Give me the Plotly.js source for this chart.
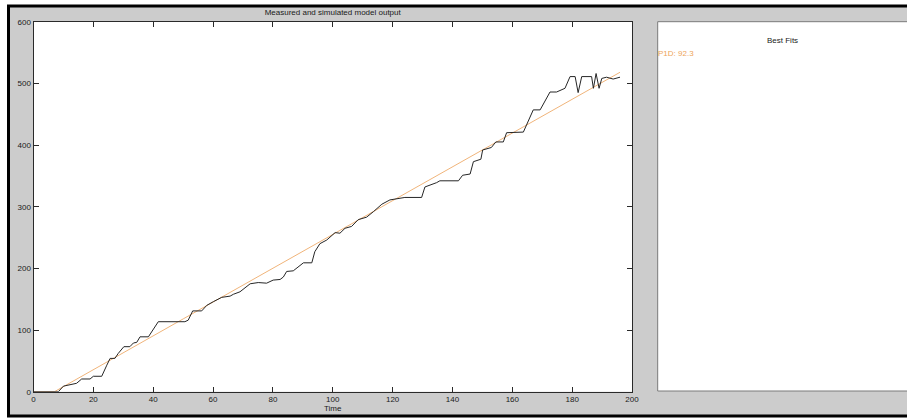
<!DOCTYPE html>
<html>
<head>
<meta charset="utf-8">
<script src="https://cdn.plot.ly/plotly-3.0.1.min.js"></script>
<style>
  html, body { margin: 0; padding: 0; background: #ffffff; overflow: hidden; }
  #chart { width: 907px; height: 418px; overflow: hidden; }
</style>
</head>
<body>
<div id="chart"></div>
<script>
// Measured output (black) over time
const measuredTime = [0, 8.3, 10, 11.6, 14.4, 16.1, 18.9, 20, 22.8, 24.5, 25.6, 27.2, 28.3, 30.2, 32.2, 33.4, 34.5, 35.6, 38.4, 41.7, 50.6, 51.7, 53.2, 56.2, 57.9, 60.1, 61.8, 62.9, 65.7, 66.8, 69, 70.7, 72.4, 75.1, 77.9, 80.1, 82.4, 83.5, 84.6, 86.8, 88.5, 90.2, 93, 94, 95.7, 98, 100.8, 102.4, 104.1, 106.3, 108.5, 111.3, 113.6, 116.4, 119.1, 124.1, 129.7, 130.8, 134.7, 135.8, 142, 143.4, 145.9, 147, 149.5, 150.1, 153, 154.5, 157, 158.1, 163.7, 165.3, 167, 169.3, 170.9, 172.6, 174.8, 177.6, 179.3, 181, 182, 183.2, 186.5, 187.1, 188, 189, 189.9, 191.5, 193.7, 196];
const measuredOutput = [0, 0, 9, 11, 13.6, 20.6, 20.6, 25, 25, 43, 54, 54, 62, 73, 73, 79, 80, 89, 89, 113.5, 113.5, 116, 131, 131, 140, 146, 150, 153, 155, 158, 162, 168, 175, 177, 176, 181, 182, 186, 195, 196, 203, 209, 209, 227, 240, 246, 258, 257, 265, 268, 279, 283, 292, 304, 311, 315, 315, 332, 339, 342, 342, 351, 353, 373, 377, 392, 396, 405, 405, 420, 421, 438, 457, 457, 470, 486, 486, 492, 511, 511, 485, 511, 511, 492, 516, 492, 508, 510, 507, 510];

// Simulated P1D model output (orange)
const simulatedTime = [0, 7, 50, 100, 150, 196];
const simulatedOutput = [0, 0, 118, 255, 392, 518];

// Axis ticks
const xTicks = [0, 20, 40, 60, 80, 100, 120, 140, 160, 180, 200];
const yTicks = [0, 100, 200, 300, 400, 500, 600];

// Fit summary
const fitName = 'P1D';
const fitValue = 92.3;

const W = 907, H = 418;
const px = v => v / W;           // horizontal pixel -> paper
const py = v => 1 - v / H;       // vertical pixel (from top) -> paper
const EDGE = 1.1;                // past the right edge of the figure

const font = { family: 'Liberation Sans, Arial, sans-serif', size: 8, color: '#1a1a1a' };
const simColor = '#f0b47a';

const traces = [
  {
    x: simulatedTime, y: simulatedOutput, type: 'scatter', mode: 'lines',
    line: { color: simColor, width: 1 }, name: 'Simulated'
  },
  {
    x: measuredTime, y: measuredOutput, type: 'scatter', mode: 'lines',
    line: { color: '#262626', width: 1 }, name: 'Measured'
  }
];

const axisCommon = {
  showgrid: false, zeroline: false,
  showline: true, linecolor: '#2a2a2a', linewidth: 1,
  mirror: 'ticks', ticks: 'inside', ticklen: 5, tickwidth: 1, tickcolor: '#2a2a2a',
  tickfont: font, fixedrange: true
};

// straight line helper in paper coordinates
const seg = (x0, y0, x1, y1, color, width) => ({
  type: 'line', xref: 'paper', yref: 'paper', layer: 'below',
  x0: x0, y0: y0, x1: x1, y1: y1, line: { color: color, width: width }
});

const layout = {
  width: W, height: H,
  margin: { l: 0, r: 0, t: 0, b: 0, pad: 0 },
  paper_bgcolor: '#ffffff',
  plot_bgcolor: 'rgba(0,0,0,0)',
  showlegend: false,
  font: font,
  title: {
    text: 'Measured and simulated model output',
    font: font,
    xref: 'paper', yref: 'container',
    x: px(332.7), xanchor: 'center',
    y: py(12.5), yanchor: 'middle'
  },
  xaxis: Object.assign({}, axisCommon, {
    domain: [px(33.5), px(632)],
    range: [0, 200], tickvals: xTicks,
    title: { text: 'Time', font: font, standoff: 2 },
    automargin: false
  }),
  yaxis: Object.assign({}, axisCommon, {
    domain: [py(391.7), py(21.7)],
    range: [0, 600], tickvals: yTicks,
    automargin: false
  }),
  shapes: [
    // grey figure background
    { type: 'rect', xref: 'paper', yref: 'paper', layer: 'below',
      x0: px(8.5), x1: EDGE, y0: py(416), y1: py(6),
      fillcolor: '#cccccc', line: { width: 0 } },
    // black frame: top, left, bottom (open on the right)
    seg(px(7), py(6), EDGE, py(6), '#000000', 3),
    seg(px(8.5), py(6), px(8.5), py(416), '#000000', 3),
    seg(px(7), py(416), EDGE, py(416), '#000000', 3),
    // main plot area
    { type: 'rect', xref: 'paper', yref: 'paper', layer: 'below',
      x0: px(33.5), x1: px(632), y0: py(391.7), y1: py(21.7),
      fillcolor: '#ffffff', line: { width: 0 } },
    // fit summary panel, running off the right edge
    { type: 'rect', xref: 'paper', yref: 'paper', layer: 'below',
      x0: px(657.7), x1: EDGE, y0: py(391), y1: py(21.7),
      fillcolor: '#ffffff', line: { width: 0 } },
    seg(px(657.7), py(21.7), EDGE, py(21.7), '#7a7a7a', 1),
    seg(px(657.7), py(21.7), px(657.7), py(391), '#7a7a7a', 1),
    seg(px(657.7), py(391), EDGE, py(391), '#7a7a7a', 1)
  ],
  annotations: [
    { text: 'Best Fits', xref: 'paper', yref: 'paper',
      x: px(782), y: py(40), xanchor: 'center', yanchor: 'middle',
      showarrow: false, font: font },
    { text: fitName + ': ' + fitValue, xref: 'paper', yref: 'paper',
      x: px(655.5), y: py(53.5), xanchor: 'left', yanchor: 'middle',
      showarrow: false, font: { family: font.family, size: 8, color: '#eea55a' } }
  ]
};

Plotly.newPlot('chart', traces, layout, { staticPlot: true, displayModeBar: false });
</script>
</body>
</html>
